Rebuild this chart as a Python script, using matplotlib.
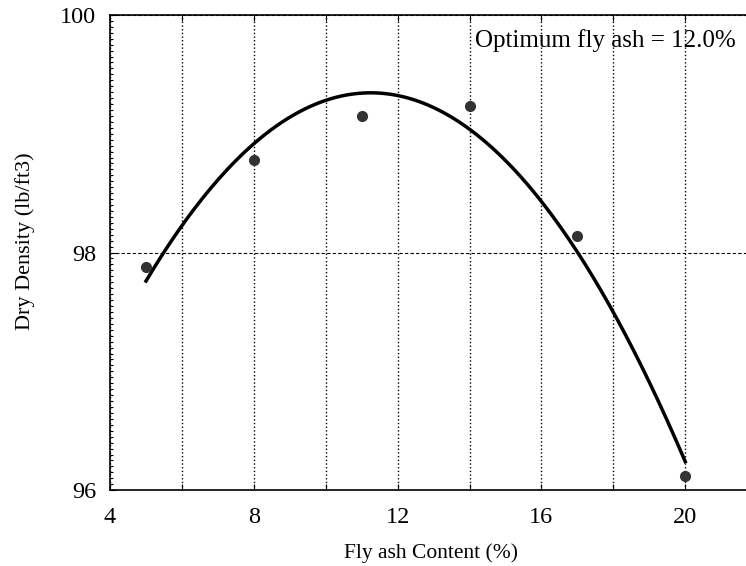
import numpy as np
import matplotlib
matplotlib.use("Agg")
import matplotlib.pyplot as plt
from matplotlib.ticker import MultipleLocator

plt.rcParams['font.family'] = ['Liberation Serif', 'DejaVu Serif']

# data
fly_ash = [5, 8, 11, 14, 17, 20]
dry_density = [97.88, 98.78, 99.15, 99.23, 98.14, 96.12]

x_ticks = [4, 6, 8, 10, 12, 14, 16, 18, 20]
x_labels = ["4", "", "8", "", "12", "", "16", "", "20"]
y_ticks = [96, 98, 100]

# trend line (second order fit through the measured points)
coef = np.polyfit(fly_ash, dry_density, 2)
xs = np.linspace(5, 20, 200)
ys = np.polyval(coef, xs)

fig = plt.figure(figsize=(7.46, 5.66), dpi=100)
ax = fig.add_axes([0.1475, 0.134, 0.8525, 0.8396])

ax.plot(xs, ys, color="black", lw=2.5, zorder=3)
ax.plot(fly_ash, dry_density, "o", color="#333333", ms=7, zorder=4)

ax.set_xlim(4, 21.69)
ax.set_ylim(96, 100)
ax.set_xticks(x_ticks)
ax.set_xticklabels(x_labels)
ax.set_yticks(y_ticks)
ax.yaxis.set_minor_locator(MultipleLocator(0.05))

ax.tick_params(axis="both", which="major", direction="in", length=4,
               labelsize=17.5, top=True)
ax.tick_params(axis="x", which="major", pad=12, labeltop=False)
ax.tick_params(axis="y", which="major", pad=10)
ax.tick_params(axis="y", which="minor", direction="in", length=2, width=0.8)

ax.grid(True, axis="x", linestyle=":", color="black", lw=1)
ax.grid(True, axis="y", linestyle="--", color="black", lw=0.8, dashes=(3, 2))

ax.spines["right"].set_visible(False)
for s in ["left", "bottom", "top"]:
    ax.spines[s].set_linewidth(1.2)

ax.set_xlabel("Fly ash Content (%)", fontsize=15.5)
ax.set_ylabel("Dry Density (lb/ft3)", fontsize=16)
ax.xaxis.set_label_coords(0.505, -0.112)
ax.yaxis.set_label_coords(-0.118, 0.524)

ax.text(0.574, 0.947, "Optimum fly ash = 12.0%", transform=ax.transAxes,
        fontsize=18, ha="left", va="center")

fig.savefig("out.png", dpi=100)
